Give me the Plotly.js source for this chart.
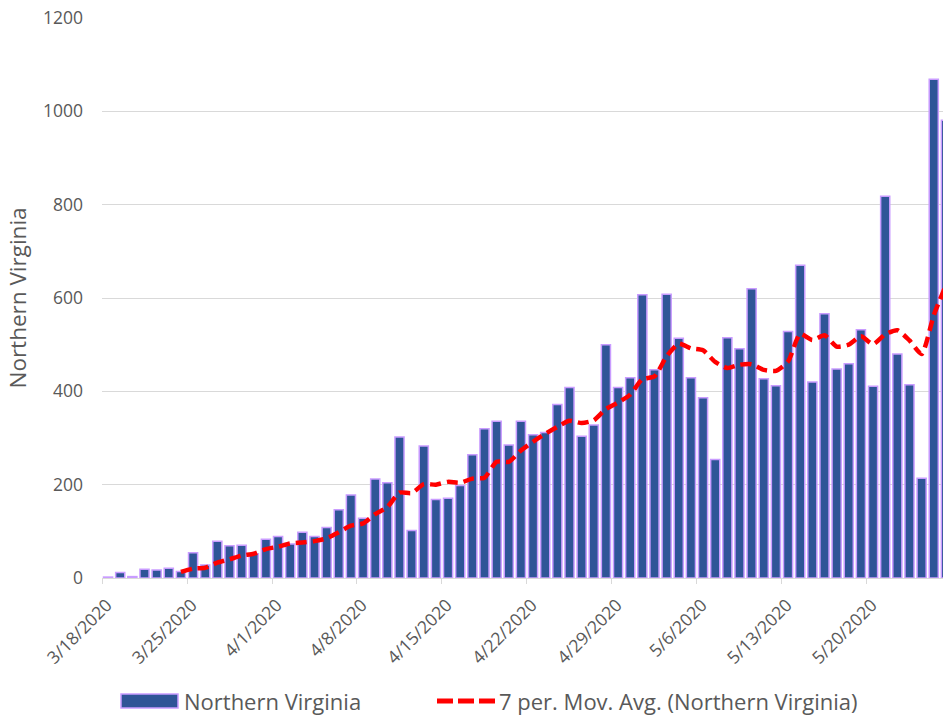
<!DOCTYPE html>
<html>
<head>
<meta charset="utf-8">
<script src="https://cdn.plot.ly/plotly-3.0.1.min.js"></script>
<style>html,body{margin:0;padding:0;background:#fff;}#chart{width:943px;height:717px;}</style>
</head>
<body>
<div id="chart"></div>
<script>
const dates = [
  '2020-03-18','2020-03-19','2020-03-20','2020-03-21','2020-03-22','2020-03-23','2020-03-24',
  '2020-03-25','2020-03-26','2020-03-27','2020-03-28','2020-03-29','2020-03-30','2020-03-31',
  '2020-04-01','2020-04-02','2020-04-03','2020-04-04','2020-04-05','2020-04-06','2020-04-07',
  '2020-04-08','2020-04-09','2020-04-10','2020-04-11','2020-04-12','2020-04-13','2020-04-14',
  '2020-04-15','2020-04-16','2020-04-17','2020-04-18','2020-04-19','2020-04-20','2020-04-21',
  '2020-04-22','2020-04-23','2020-04-24','2020-04-25','2020-04-26','2020-04-27','2020-04-28',
  '2020-04-29','2020-04-30','2020-05-01','2020-05-02','2020-05-03','2020-05-04','2020-05-05',
  '2020-05-06','2020-05-07','2020-05-08','2020-05-09','2020-05-10','2020-05-11','2020-05-12',
  '2020-05-13','2020-05-14','2020-05-15','2020-05-16','2020-05-17','2020-05-18','2020-05-19',
  '2020-05-20','2020-05-21','2020-05-22','2020-05-23','2020-05-24','2020-05-25','2020-05-26'
];
const cases = [
  2, 12, 3, 19, 17, 21, 14,
  54, 28, 79, 69, 70, 52, 83,
  89, 73, 98, 89, 108, 146, 178,
  128, 212, 204, 302, 102, 283, 168,
  171, 198, 264, 320, 336, 285, 336,
  307, 312, 372, 408, 304, 328, 500,
  408, 429, 607, 446, 608, 514, 429,
  386, 254, 515, 491, 620, 427, 412,
  528, 670, 420, 566, 448, 459, 532,
  411, 818, 480, 414, 214, 1069, 981
];
const movAvg = [
  null, null, null, null, null, null, 13,
  20, 22, 33, 40, 48, 52, 62,
  67, 74, 76, 79, 85, 98, 112,
  117, 137, 152, 183, 182, 201, 200,
  206, 204, 213, 215, 249, 249, 273,
  292, 309, 324, 337, 332, 338, 362,
  376, 393, 426, 432, 475, 502, 492,
  488, 463, 450, 457, 458, 446, 444,
  464, 523, 510, 520, 496, 500, 518,
  501, 522, 531, 509, 480, 563, 627
];
const tickDates = ['2020-03-18','2020-03-25','2020-04-01','2020-04-08','2020-04-15','2020-04-22','2020-04-29','2020-05-06','2020-05-13','2020-05-20'];
const tickLabels = ['3/18/2020','3/25/2020','4/1/2020','4/8/2020','4/15/2020','4/22/2020','4/29/2020','5/6/2020','5/13/2020','5/20/2020'];
const seriesName = 'Northern Virginia';
const avgName = '7 per. Mov. Avg. (Northern Virginia)';

const DAY = 86400000;
const BAR_FILL = '#2F5597', BAR_EDGE = '#C99CFF', AVG_COLOR = '#FF0000';
const W = 943, H = 717, ML = 102, MR = 0, MT = 18, MB = 139;
const PW = W - ML - MR, PH = H - MT - MB;
const px = v => (v - ML) / PW;      // page pixel -> paper x
const py = v => (H - MB - v) / PH;  // page pixel -> paper y

const traces = [
  {
    type: 'bar', name: seriesName, x: dates, y: cases,
    xperiod: DAY, xperiodalignment: 'middle',
    marker: {color: BAR_FILL, line: {color: BAR_EDGE, width: 1.5}},
    showlegend: false, hoverinfo: 'x+y'
  },
  {
    type: 'scatter', mode: 'lines', name: avgName, x: dates, y: movAvg,
    xperiod: DAY, xperiodalignment: 'middle',
    line: {color: AVG_COLOR, width: 4.5, dash: '11px,6px', shape: 'spline', smoothing: 0.6},
    showlegend: false
  }
];

// legend drawn as swatches + text below the plot
const legendY = 701;
const shapes = [
  {type: 'rect', xref: 'paper', yref: 'paper', x0: px(121), x1: px(178), y0: py(708), y1: py(694),
   fillcolor: BAR_FILL, line: {color: BAR_EDGE, width: 1.5}},
  {type: 'line', xref: 'paper', yref: 'paper', x0: px(437), x1: px(496), y0: py(legendY), y1: py(legendY),
   line: {color: AVG_COLOR, width: 5, dash: '16px,5px'}}
];
const annotations = [
  {text: seriesName, xref: 'paper', yref: 'paper', x: px(182), y: py(legendY), xanchor: 'left', yanchor: 'middle',
   showarrow: false, font: {size: 22, color: '#595959'}},
  {text: avgName, xref: 'paper', yref: 'paper', x: px(497), y: py(legendY), xanchor: 'left', yanchor: 'middle',
   showarrow: false, font: {size: 22, color: '#595959'}}
];

const layout = {
  width: W, height: H,
  margin: {l: ML, r: MR, t: MT, b: MB},
  paper_bgcolor: '#ffffff', plot_bgcolor: '#ffffff',
  font: {family: '"Open Sans", sans-serif', color: '#595959'},
  bargap: 0.25,
  showlegend: false,
  xaxis: {
    type: 'date', range: ['2020-03-18 00:00', '2020-05-26 06:15'],
    tickmode: 'array', tickvals: tickDates, ticktext: tickLabels,
    tickangle: -45, tickfont: {size: 17.5, color: '#595959'},
    ticklabelshift: 5, ticklabelstandoff: 4,
    showgrid: false, zeroline: false,
    showline: true, linecolor: '#D9D9D9', linewidth: 1,
    ticks: 'outside', ticklen: 5, tickcolor: '#D9D9D9', tickwidth: 1
  },
  yaxis: {
    range: [0, 1200], tickmode: 'linear', tick0: 0, dtick: 200,
    tickfont: {size: 17.5, color: '#595959'},
    gridcolor: '#D9D9D9', gridwidth: 1, zeroline: false, showline: false,
    ticks: '', ticklabelstandoff: 18,
    title: {text: 'Northern Virginia', font: {size: 22.5, color: '#595959'}, standoff: 10}
  },
  shapes: shapes,
  annotations: annotations
};
Plotly.newPlot('chart', traces, layout, {displayModeBar: false, staticPlot: true});
</script>
</body>
</html>
